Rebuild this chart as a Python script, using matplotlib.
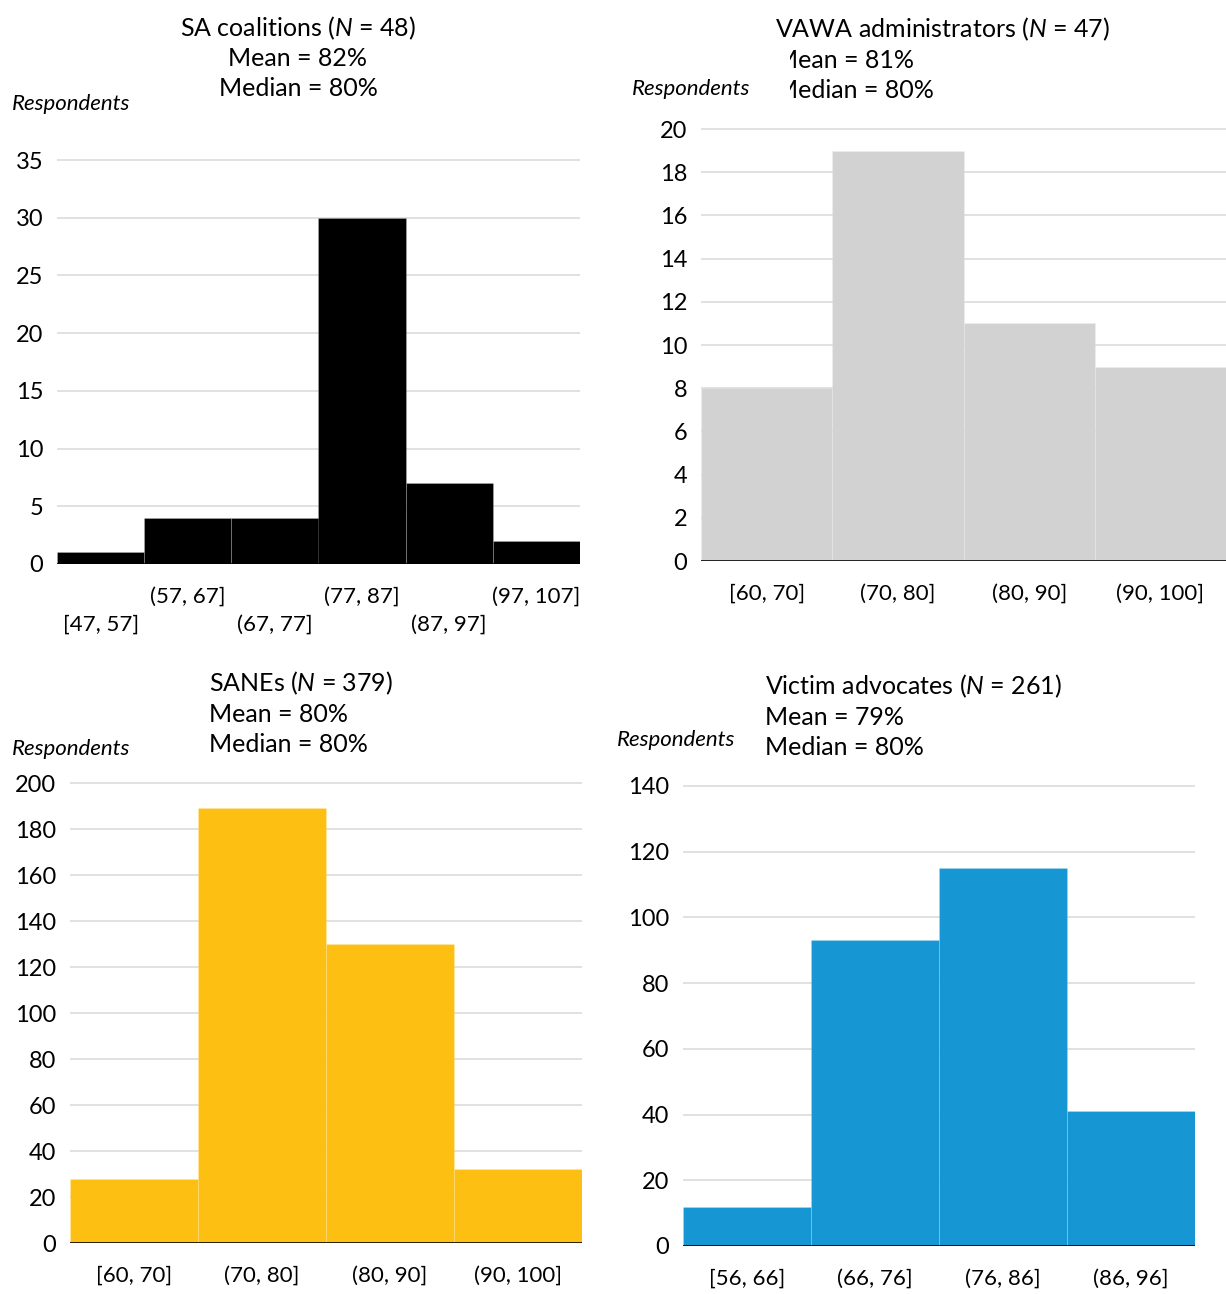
import matplotlib
matplotlib.use("Agg")
import matplotlib.pyplot as plt
from matplotlib.patches import Rectangle
from matplotlib.transforms import ScaledTranslation

plt.rcParams["font.family"] = ["Lato", "DejaVu Sans"]
plt.rcParams["mathtext.fontset"] = "custom"
plt.rcParams["mathtext.rm"] = "Lato"
plt.rcParams["mathtext.it"] = "Lato:italic"

# ---- data -------------------------------------------------------------
coal_bins = ["[47, 57]", "(57, 67]", "(67, 77]", "(77, 87]", "(87, 97]", "(97, 107]"]
coal_counts = [1, 4, 4, 30, 7, 2]

vawa_bins = ["[60, 70]", "(70, 80]", "(80, 90]", "(90, 100]"]
vawa_counts = [8, 19, 11, 9]

sane_bins = ["[60, 70]", "(70, 80]", "(80, 90]", "(90, 100]"]
sane_counts = [28, 189, 130, 32]

adv_bins = ["[56, 66]", "(66, 76]", "(76, 86]", "(86, 96]"]
adv_counts = [12, 93, 115, 41]

titles = [
    ("SA coalitions", 48, 82, 80),
    ("VAWA administrators", 47, 81, 80),
    ("SANEs", 379, 80, 80),
    ("Victim advocates", 261, 79, 80),
]

W, H = 1226, 1294
DPI = 100
fig = plt.figure(figsize=(W / DPI, H / DPI), dpi=DPI)
fig.patch.set_facecolor("white")


def fx(x):
    return x / W


def fy(y):
    return 1 - y / H


def make_axes(x0, x1, y_zero, px_per_unit, ytop):
    top = y_zero - ytop * px_per_unit
    return fig.add_axes([fx(x0), fy(y_zero), (x1 - x0) / W, (y_zero - top) / H])


def draw_hist(ax, labels, counts, color, yticks, ytop, stagger=False,
              sep=(1, 1, 1, 0.15)):
    n = len(counts)
    ax.bar(range(n), counts, width=1.0, color=color,
           edgecolor=sep, linewidth=0.7, zorder=2)
    ax.set_xlim(-0.5, n - 0.5)
    ax.set_ylim(0, ytop)
    ax.set_yticks(yticks)
    ax.set_yticklabels([str(t) for t in yticks])
    ax.set_xticks(range(n))
    ax.set_xticklabels(labels)
    for s in ax.spines.values():
        s.set_visible(False)
    ax.yaxis.grid(True, color="#dedede", linewidth=1.3, zorder=0)
    ax.set_axisbelow(True)
    ax.axhline(0, color="black", linewidth=1.9, zorder=3)
    ax.tick_params(axis="y", length=0, pad=10, labelsize=17, colors="black")
    ax.tick_params(axis="x", length=0, pad=16, labelsize=16, colors="black")
    if stagger:
        shift = ScaledTranslation(0, -28 / DPI, fig.dpi_scale_trans)
        for lbl in ax.get_xticklabels()[0::2]:
            lbl.set_transform(lbl.get_transform() + shift)


def head(x, baselines, info, ha, resp_xy, clip_x=None):
    name, n, mean, med = info
    lines = [
        f"{name} (" + r"$\mathit{N}$" + f" = {n})",
        f"Mean = {mean}%",
        f"Median = {med}%",
    ]
    for i, (txt, yb) in enumerate(zip(lines, baselines)):
        t = fig.text(fx(x), fy(yb), txt, ha=ha, va="baseline",
                     fontsize=18, color="black")
        if clip_x is not None and i > 0:
            r = Rectangle((fx(clip_x), 0), 1, 1, transform=fig.transFigure,
                          facecolor="none", edgecolor="none")
            t.set_clip_path(r)
    fig.text(fx(resp_xy[0]), fy(resp_xy[1]), "Respondents", ha="left",
             va="baseline", fontsize=16, style="italic", color="black")


# SA coalitions
ax1 = make_axes(57, 580, 564, 11.54, 35.4)
draw_hist(ax1, coal_bins, coal_counts, "#000000",
          [0, 5, 10, 15, 20, 25, 30, 35], 35.4, stagger=True,
          sep=(1, 1, 1, 0.2))
head(298, [36, 66, 96], titles[0], "center", (12, 110))

# VAWA administrators
ax2 = make_axes(701, 1226, 561, 21.6, 20.3)
draw_hist(ax2, vawa_bins, vawa_counts, "#d2d2d2",
          list(range(0, 21, 2)), 20.3)
head(775, [37, 68, 98], titles[1], "left", (632, 95), clip_x=790)

# SANEs
ax3 = make_axes(70, 582, 1243, 2.3, 203)
draw_hist(ax3, sane_bins, sane_counts, "#fdbf11",
          list(range(0, 201, 20)), 203)
head(209, [691, 722, 752], titles[2], "left", (12, 755))

# Victim advocates
ax4 = make_axes(683, 1195, 1246, 3.286, 142)
draw_hist(ax4, adv_bins, adv_counts, "#1696d2",
          list(range(0, 141, 20)), 142)
head(765, [694, 725, 755], titles[3], "left", (617, 746))

fig.savefig("out.png", dpi=DPI, facecolor="white")
